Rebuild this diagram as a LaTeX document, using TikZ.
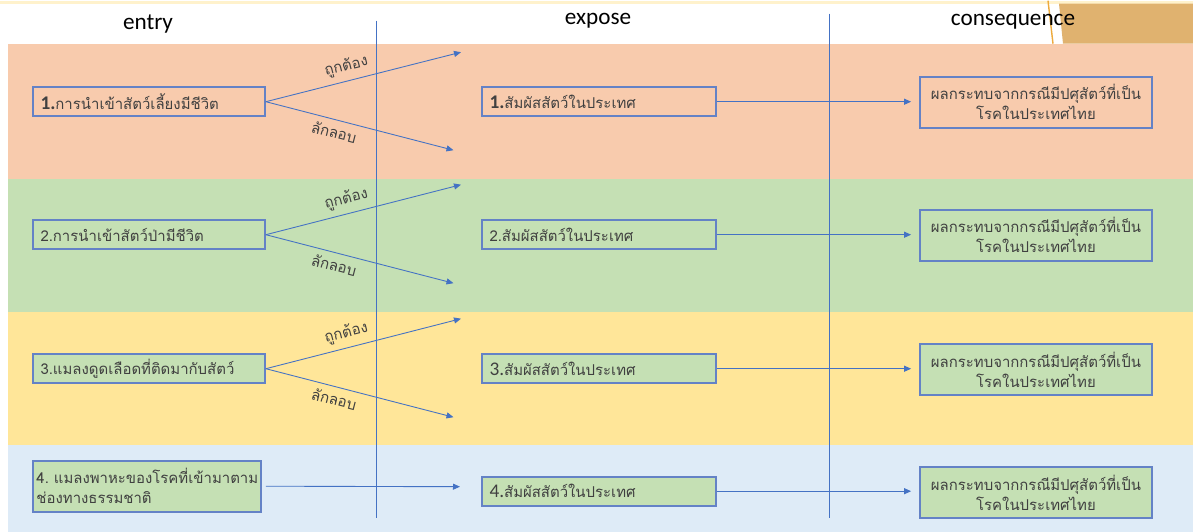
\documentclass[tikz,border=0pt]{standalone}
\usepackage{fontspec}
\usepackage{xcolor}
\setmainfont{Carlito}
\newfontfamily\thaifont[Script=Thai]{Loma}
\usetikzlibrary{arrows.meta}
\definecolor{bandorange}{RGB}{248, 203, 173}
\definecolor{bandgreen}{RGB}{197, 224, 180}
\definecolor{bandyellow}{RGB}{255, 230, 153}
\definecolor{bandblue}{RGB}{222, 235, 247}
\definecolor{boxblue}{RGB}{100, 130, 198}
\definecolor{lineblue}{RGB}{68, 114, 196}
\definecolor{textgray}{RGB}{64, 64, 64}
\definecolor{topcream}{RGB}{255, 242, 204}
\definecolor{decotan}{RGB}{224, 178, 111}
\definecolor{decoorange}{RGB}{237, 170, 60}

\begin{document}
\begin{tikzpicture}[
    box/.style={rectangle, draw=boxblue, line width=1pt, fill=bandgreen, minimum height=0.58cm, inner xsep=0.15cm, inner ysep=0pt, text=textgray, font=\thaifont\fontsize{8.5}{11.5}\selectfont},
    entrybox/.style={box, minimum width=4.64cm, text width=4.34cm, align=left},
    exposebox/.style={box, minimum width=4.68cm, text width=4.38cm, align=left},
    resultbox/.style={box, minimum width=4.64cm, minimum height=1.02cm, text width=4.34cm, align=center},
    header/.style={font=\fontsize{13.2}{15}\selectfont, text=black},
    arrow/.style={-{Stealth[length=1.4mm, width=1.2mm, inset=0pt]}, draw=lineblue, line width=0.5pt},
    divider/.style={draw=lineblue, line width=0.5pt},
    lbl/.style={font=\thaifont\fontsize{8.5}{10}\selectfont, text=textgray, sloped}
]

% Background
\fill[white] (0,0) rectangle (23.86,10.62);
\fill[topcream] (0,10.56) rectangle (23.86,10.62);

% Bands
\fill[bandorange] (0.16,9.76) rectangle (23.86,7.06);
\fill[bandgreen] (0.16,7.06) rectangle (23.86,4.40);
\fill[bandyellow] (0.16,4.40) rectangle (23.86,1.74);
\fill[bandblue] (0.16,1.74) rectangle (23.86,0);

% Corner decoration
\fill[decotan] (21.18,10.56) -- (23.86,10.56) -- (23.86,9.76) -- (21.26,9.76) -- cycle;
\draw[decoorange, line width=0.8pt] (20.96,10.62) -- (21.06,9.76);

% Column dividers
\draw[divider] (7.52,10.22) -- (7.52,0.28);
\draw[divider] (16.58,10.36) -- (16.58,0.28);

% Headers
\node[header] (hentry) at (2.96,10.16) {entry};
\node[header] (hexpose) at (11.96,10.22) {expose};
\node[header] (hcons) at (20.26,10.20) {consequence};

% Band 1
\node[entrybox, fill=bandorange] (en1) at (2.98,8.60) {{\fontspec{Carlito}\fontsize{11}{11}\selectfont\bfseries 1.}การนำเข้าสัตว์เลี้ยงมีชีวิต};
\node[exposebox, fill=bandorange] (ex1) at (11.98,8.60) {{\fontspec{Carlito}\fontsize{11}{11}\selectfont\bfseries 1.}สัมผัสสัตว์ในประเทศ};
\node[resultbox, fill=bandorange] (cs1) at (20.72,8.59) {ผลกระทบจากกรณีมีปศุสัตว์ที่เป็น\\ โรคในประเทศไทย};

% Band 2
\node[entrybox] (en2) at (2.98,5.94) {2.การนำเข้าสัตว์ป่ามีชีวิต};
\node[exposebox] (ex2) at (11.98,5.94) {2.สัมผัสสัตว์ในประเทศ};
\node[resultbox] (cs2) at (20.72,5.93) {ผลกระทบจากกรณีมีปศุสัตว์ที่เป็น\\ โรคในประเทศไทย};

% Band 3
\node[entrybox] (en3) at (2.98,3.26) {3.แมลงดูดเลือดที่ติดมากับสัตว์};
\node[exposebox] (ex3) at (11.98,3.26) {{\fontspec{Carlito}\fontsize{11}{11}\selectfont 3.}สัมผัสสัตว์ในประเทศ};
\node[resultbox] (cs3) at (20.72,3.24) {ผลกระทบจากกรณีมีปศุสัตว์ที่เป็น\\ โรคในประเทศไทย};

% Band 4
\node[entrybox, minimum width=4.56cm, text width=4.42cm, inner xsep=0.07cm, minimum height=1.02cm] (en4) at (2.94,0.91) {4.~แมลงพาหะของโรคที่เข้ามาตาม\\ ช่องทางธรรมชาติ};
\node[exposebox] (ex4) at (11.98,0.81) {{\fontspec{Carlito}\fontsize{11}{11}\selectfont 4.}สัมผัสสัตว์ในประเทศ};
\node[resultbox] (cs4) at (20.72,0.78) {ผลกระทบจากกรณีมีปศุสัตว์ที่เป็น\\ โรคในประเทศไทย};

% Arrow ends
\coordinate (legal1) at (9.22,9.59);
\coordinate (smuggle1) at (9.07,7.63);
\coordinate (legal2) at (9.22,6.94);
\coordinate (smuggle2) at (9.07,4.97);
\coordinate (legal3) at (9.22,4.26);
\coordinate (smuggle3) at (9.07,2.29);
\coordinate (wild4) at (9.20,0.90);

% Entry to expose
\draw[arrow] (en1.east) -- (legal1) node[lbl, pos=0.43, above] (lg1) {ถูกต้อง};
\draw[arrow] (en1.east) -- (smuggle1) node[lbl, pos=0.38, below] (sm1) {ลักลอบ};
\draw[arrow] (en2.east) -- (legal2) node[lbl, pos=0.43, above] (lg2) {ถูกต้อง};
\draw[arrow] (en2.east) -- (smuggle2) node[lbl, pos=0.38, below] (sm2) {ลักลอบ};
\draw[arrow] (en3.east) -- (legal3) node[lbl, pos=0.43, above] (lg3) {ถูกต้อง};
\draw[arrow] (en3.east) -- (smuggle3) node[lbl, pos=0.38, below] (sm3) {ลักลอบ};
\draw[arrow, shorten <=0.08cm] (en4.east) -- (wild4);

% Expose to consequence
\draw[arrow, shorten >=0.16cm] (ex1.east) -- (ex1.east -| cs1.west);
\draw[arrow, shorten >=0.16cm] (ex2.east) -- (ex2.east -| cs2.west);
\draw[arrow, shorten >=0.16cm] (ex3.east) -- (ex3.east -| cs3.west);
\draw[arrow, shorten >=0.16cm] (ex4.east) -- (ex4.east -| cs4.west);

\end{tikzpicture}
\end{document}
